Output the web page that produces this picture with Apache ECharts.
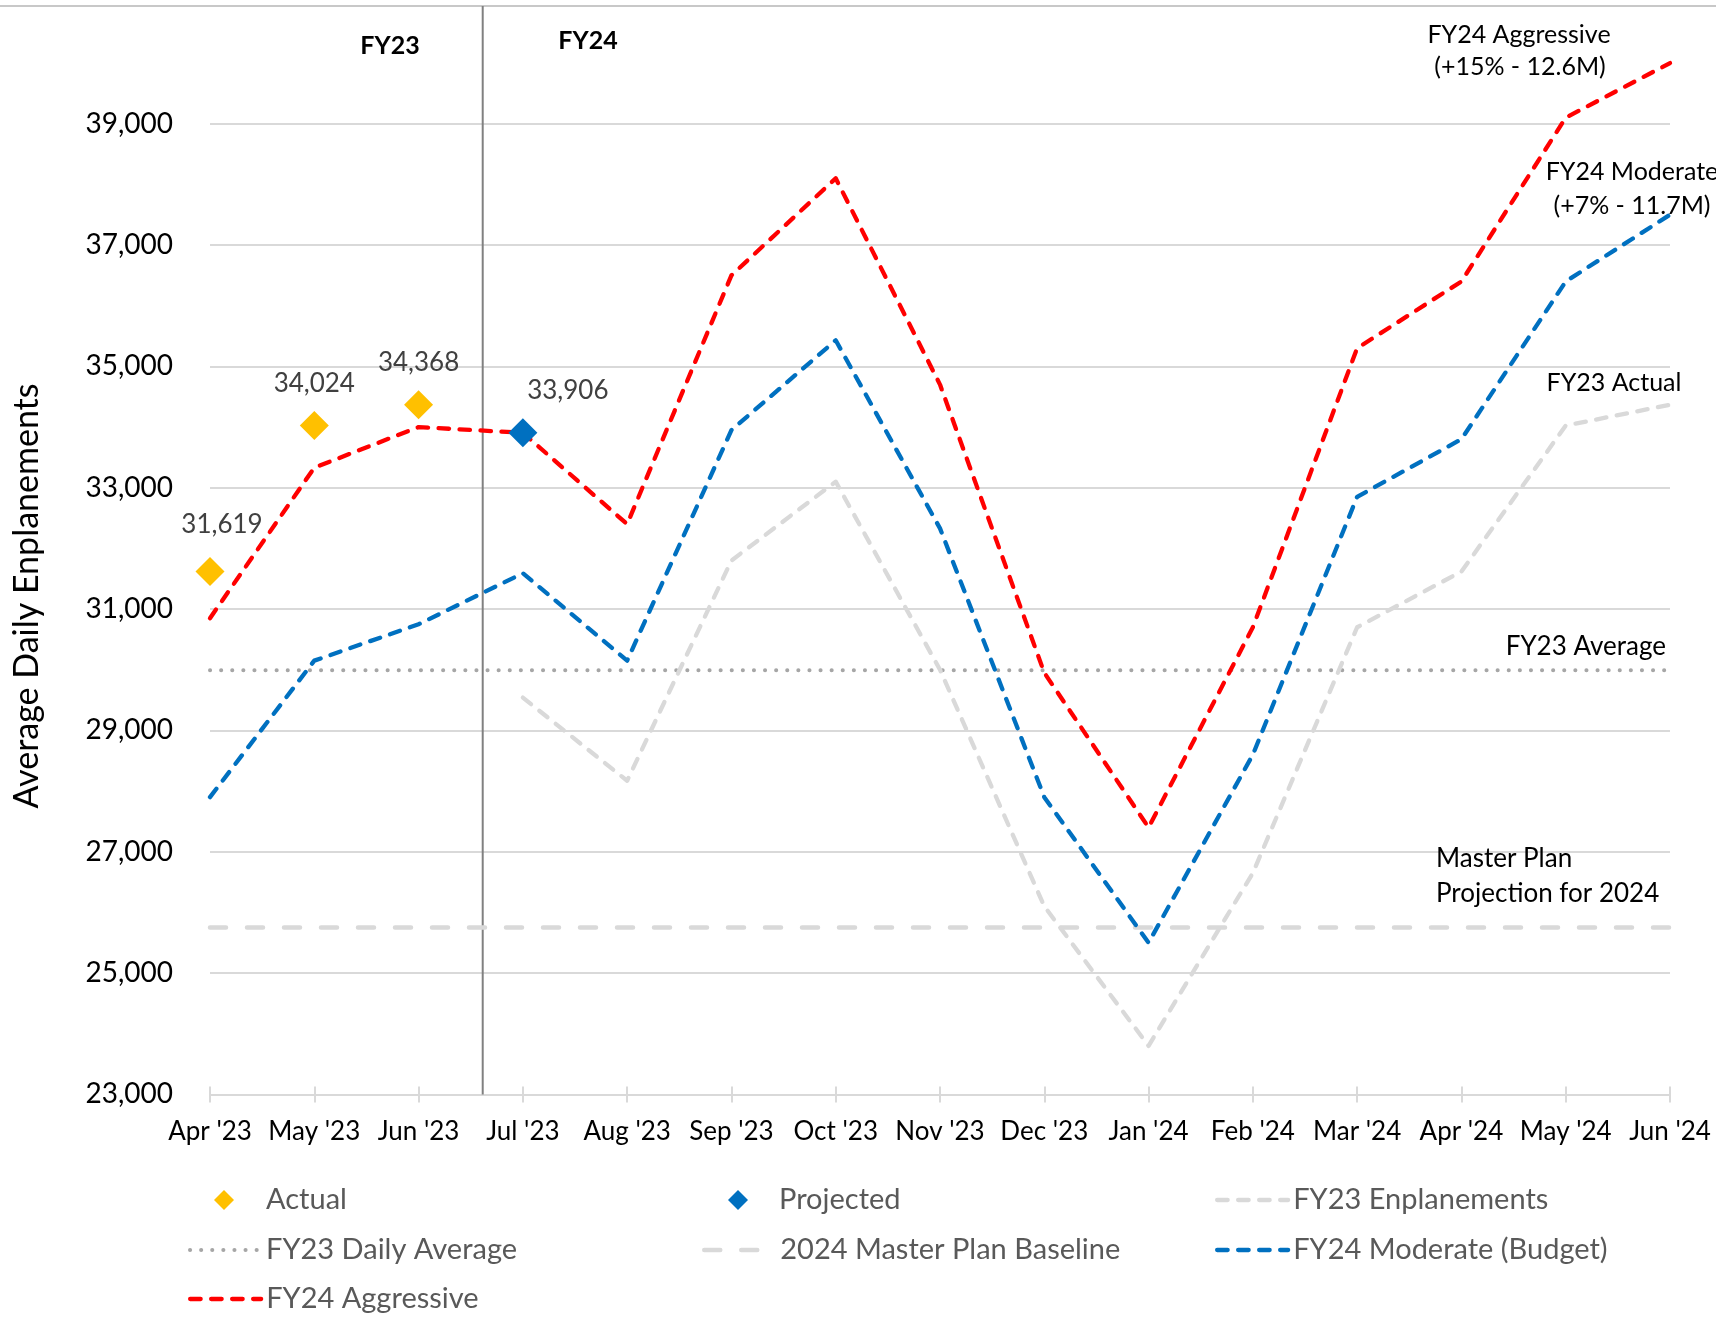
<!DOCTYPE html>
<html>
<head>
<meta charset="utf-8">
<script src="https://cdn.jsdelivr.net/npm/echarts@6/dist/echarts.min.js"></script>
<style>
  html, body { margin: 0; padding: 0; background: #fff; }
  #chart { width: 1716px; height: 1318px; }
</style>
</head>
<body>
<div id="chart"></div>
<script>
const categories = ["Apr '23", "May '23", "Jun '23", "Jul '23", "Aug '23", "Sep '23", "Oct '23", "Nov '23", "Dec '23", "Jan '24", "Feb '24", "Mar '24", "Apr '24", "May '24", "Jun '24"];
const fy24Aggressive = [30850, 33330, 34000, 33906, 32400, 36500, 38100, 34700, 29950, 27400, 30700, 35300, 36400, 39100, 40000];
const fy24Moderate = [27900, 30150, 30750, 31590, 30150, 33950, 35430, 32330, 27900, 25500, 28600, 32850, 33800, 36400, 37500];
const fy23Enplanements = [null, null, null, 29540, 28170, 31800, 33100, 30000, 26100, 23800, 26650, 30700, 31619, 34024, 34368];
const actual = [31619, 34024, 34368];
const projected = [null, null, null, 33906];
const fy23DailyAverage = 29990;
const masterPlanBaseline = 25750;
const fiscalYearDivider = 2.615;      // category position between Jun '23 and Jul '23
const dividerExtent = [23000, 40940];
const yMin = 23000, yMax = 41000, yInterval = 2000;

const FONT = 'Lato, "Open Sans", sans-serif';
const fmt = v => Number(v).toLocaleString('en-US');
const lastIdx = categories.length - 1;

const dashMain = { width: 4.3, type: [10.5, 10.5], cap: 'round', join: 'round' };

const chart = echarts.init(document.getElementById('chart'), null, { renderer: 'canvas' });

function legendAt(name, left, top, extra) {
  return Object.assign({
    data: [name], left: left, top: top, orient: 'horizontal',
    itemWidth: 71, itemHeight: 20, itemGap: 0, padding: 0,
    textStyle: { fontFamily: FONT, fontSize: 29, color: '#595959', lineHeight: 30 },
    selectedMode: false
  }, extra || {});
}
function lineLegend(name, left, top, width) {
  return legendAt(name, left, top, { lineStyle: { width: width }, itemStyle: { opacity: 0 } });
}
function diamondLegend(name, left, top, textPad) {
  return legendAt(name, left, top, {
    icon: 'diamond', itemWidth: 20, itemHeight: 20, itemStyle: { opacity: 1 },
    textStyle: { fontFamily: FONT, fontSize: 29, color: '#595959', lineHeight: 30, padding: [0, 0, 0, textPad] }
  });
}

const option = {
  animation: false,
  backgroundColor: '#ffffff',
  grid: { left: 210, right: 46, top: 2.4, bottom: 223.6, containLabel: false },
  xAxis: [
    {
      type: 'category', data: categories, boundaryGap: false,
      axisLine: { show: true, lineStyle: { color: '#D9D9D9', width: 2 } },
      axisTick: { show: true, length: 8, lineStyle: { color: '#D9D9D9', width: 2 } },
      axisLabel: { fontFamily: FONT, fontSize: 26, color: '#000', margin: 24, interval: 0 },
      splitLine: { show: false }
    },
    {
      type: 'value', min: 0, max: lastIdx, interval: 1, position: 'bottom',
      axisLine: { show: false },
      axisTick: { show: true, inside: true, length: 8, lineStyle: { color: '#D9D9D9', width: 2 } },
      axisLabel: { show: false },
      splitLine: { show: false }
    }
  ],
  yAxis: {
    type: 'value', min: yMin, max: yMax, interval: yInterval,
    axisLine: { show: false }, axisTick: { show: false },
    axisLabel: { fontFamily: FONT, fontSize: 28, color: '#000', margin: 37, formatter: fmt, showMaxLabel: false },
    splitLine: { show: true, showMaxLine: false, lineStyle: { color: '#D9D9D9', width: 2 } }
  },
  legend: [
    diamondLegend('Actual', 214, 1185, 27),
    lineLegend('FY23 Daily Average', 188, 1235, 4),
    lineLegend('FY24 Aggressive', 188, 1284, 4.3),
    diamondLegend('Projected', 728, 1185, 26),
    lineLegend('2024 Master Plan Baseline', 702, 1235, 4.5),
    lineLegend('FY23 Enplanements', 1215, 1185, 4.3),
    lineLegend('FY24 Moderate (Budget)', 1215, 1235, 4.3)
  ],
  series: [
    {
      name: 'divider', type: 'line', xAxisIndex: 1, symbol: 'none', silent: true,
      data: [[fiscalYearDivider, dividerExtent[0]], [fiscalYearDivider, dividerExtent[1]]],
      lineStyle: { color: '#808080', width: 2 }, z: 1
    },
    {
      name: '2024 Master Plan Baseline', type: 'line', xAxisIndex: 1, symbol: 'none',
      data: [[0, masterPlanBaseline], [lastIdx, masterPlanBaseline]],
      lineStyle: { color: '#D9D9D9', width: 4.5, type: [16, 21], cap: 'round' },
      itemStyle: { color: '#D9D9D9' }, z: 2
    },
    {
      name: 'FY23 Daily Average', type: 'line', xAxisIndex: 1, symbol: 'none',
      data: [[0, fy23DailyAverage], [lastIdx, fy23DailyAverage]],
      lineStyle: { color: '#A6A6A6', width: 4, type: [0.1, 11], cap: 'round' },
      itemStyle: { color: '#A6A6A6' }, z: 2
    },
    {
      name: 'FY23 Enplanements', type: 'line', symbol: 'none', connectNulls: false,
      data: fy23Enplanements,
      lineStyle: Object.assign({ color: '#D9D9D9' }, dashMain),
      itemStyle: { color: '#D9D9D9' }, z: 3
    },
    {
      name: 'FY24 Moderate (Budget)', type: 'line', symbol: 'none',
      data: fy24Moderate,
      lineStyle: Object.assign({ color: '#0070C0' }, dashMain),
      itemStyle: { color: '#0070C0' }, z: 4
    },
    {
      name: 'FY24 Aggressive', type: 'line', symbol: 'none',
      data: fy24Aggressive,
      lineStyle: Object.assign({ color: '#FF0000' }, dashMain),
      itemStyle: { color: '#FF0000' }, z: 5
    },
    {
      name: 'Actual', type: 'scatter', symbol: 'diamond', symbolSize: 29,
      data: actual.map((v, i) => ({
        value: v,
        label: i === 0 ? { offset: [12, -4] } : {}
      })),
      itemStyle: { color: '#FFC000', opacity: 1 },
      label: { show: true, position: 'top', distance: 15, fontFamily: FONT, fontSize: 26, color: '#404040', formatter: p => fmt(p.value) },
      z: 6
    },
    {
      name: 'Projected', type: 'scatter', symbol: 'diamond', symbolSize: 29,
      data: projected,
      itemStyle: { color: '#0070C0', opacity: 1 },
      label: { show: true, position: 'top', distance: 15, offset: [45, 0], fontFamily: FONT, fontSize: 26, color: '#404040', formatter: p => fmt(p.value) },
      z: 6
    }
  ],
  graphic: [
    { type: 'line', shape: { x1: 0, y1: 6, x2: 1716, y2: 6 }, style: { stroke: '#C8C8C8', lineWidth: 2 }, silent: true, z: 0 },
    { type: 'text', z: 100, x: 27, y: 596, rotation: Math.PI / 2, style: { text: 'Average Daily Enplanements', font: '34px ' + FONT, fill: '#000', textAlign: 'center', textVerticalAlign: 'middle' } },
    { type: 'text', z: 100, x: 390, y: 46, style: { text: 'FY23', font: 'bold 25px ' + FONT, fill: '#000', textAlign: 'center', textVerticalAlign: 'middle' } },
    { type: 'text', z: 100, x: 588, y: 41, style: { text: 'FY24', font: 'bold 25px ' + FONT, fill: '#000', textAlign: 'center', textVerticalAlign: 'middle' } },
    { type: 'text', z: 100, x: 1519, y: 35, style: { text: 'FY24 Aggressive', font: '25px ' + FONT, fill: '#000', textAlign: 'center', textVerticalAlign: 'middle' } },
    { type: 'text', z: 100, x: 1520, y: 67, style: { text: '(+15% - 12.6M)', font: '25px ' + FONT, fill: '#000', textAlign: 'center', textVerticalAlign: 'middle' } },
    { type: 'text', z: 100, x: 1632, y: 172, style: { text: 'FY24 Moderate', font: '25px ' + FONT, fill: '#000', textAlign: 'center', textVerticalAlign: 'middle' } },
    { type: 'text', z: 100, x: 1632, y: 206, style: { text: '(+7% - 11.7M)', font: '25px ' + FONT, fill: '#000', textAlign: 'center', textVerticalAlign: 'middle' } },
    { type: 'text', z: 100, x: 1614, y: 383, style: { text: 'FY23 Actual', font: '25px ' + FONT, fill: '#000', textAlign: 'center', textVerticalAlign: 'middle' } },
    { type: 'text', z: 100, x: 1666, y: 647, style: { text: 'FY23 Average', font: '26px ' + FONT, fill: '#000', textAlign: 'right', textVerticalAlign: 'middle' } },
    { type: 'text', z: 100, x: 1436, y: 859, style: { text: 'Master Plan', font: '26px ' + FONT, fill: '#000', textAlign: 'left', textVerticalAlign: 'middle' } },
    { type: 'text', z: 100, x: 1436, y: 894, style: { text: 'Projection for 2024', font: '26px ' + FONT, fill: '#000', textAlign: 'left', textVerticalAlign: 'middle' } }
  ]
};

chart.setOption(option);
</script>
</body>
</html>
